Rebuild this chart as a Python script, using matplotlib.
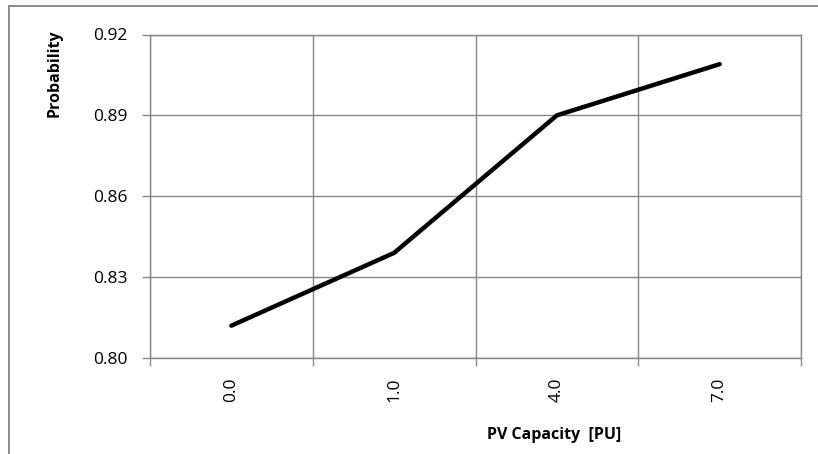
import matplotlib
matplotlib.use("Agg")
import matplotlib.pyplot as plt
import numpy as np
from matplotlib.patches import Rectangle

# data
pv_capacity = ["0.0", "1.0", "4.0", "7.0"]
probability = [0.812, 0.839, 0.890, 0.909]
y_ticks = [0.80, 0.83, 0.86, 0.89, 0.92]

plt.rcParams['font.family'] = ['Open Sans', 'DejaVu Sans']
grid_col = "#878787"

fig = plt.figure(figsize=(8.18, 4.54), dpi=100)
ax = fig.add_axes([150/818, 1-358/454, (801-150)/818, (358-34.5)/454])

x = np.arange(len(pv_capacity))
ax.plot(x, probability, color="black", lw=3.2, solid_capstyle="round", solid_joinstyle="round", zorder=3)

ax.set_xlim(-0.5, len(pv_capacity) - 0.5)
ax.set_ylim(y_ticks[0], y_ticks[-1])

# category labels at centres, ticks + gridlines at boundaries
ax.set_xticks(x)
ax.set_xticklabels(pv_capacity, rotation=90, fontsize=12.5)
ax.set_xticks(np.arange(len(pv_capacity) + 1) - 0.5, minor=True)
ax.tick_params(axis="x", which="major", length=0, pad=14)
ax.tick_params(axis="x", which="minor", length=5.5, width=1, color=grid_col, direction="out")
ax.grid(axis="x", which="minor", color=grid_col, lw=1)

ax.set_yticks(y_ticks)
ax.set_yticklabels([f"{v:.2f}" for v in y_ticks], fontsize=12.5)
ax.tick_params(axis="y", length=6, width=1, color=grid_col, direction="out", pad=10)
ax.grid(axis="y", which="major", color=grid_col, lw=1)
ax.set_axisbelow(True)

for s in ax.spines.values():
    s.set_color(grid_col)
    s.set_linewidth(1)

fig.text(55/818, 1-73.5/454, "Probability", rotation=90, ha="center", va="center",
         fontsize=11.5, fontweight="bold")
fig.text(554/818, 1-435/454, "PV Capacity  [PU]", ha="center", va="center",
         fontsize=11.5, fontweight="bold")

# outer chart border (cut off on the right and bottom)
fig.patches.append(Rectangle((9/818, -0.1), 2, (454-6)/454 + 0.1, transform=fig.transFigure,
                             fill=False, edgecolor="#8c8c8c", lw=1.4))

fig.savefig("out.png", dpi=100)
